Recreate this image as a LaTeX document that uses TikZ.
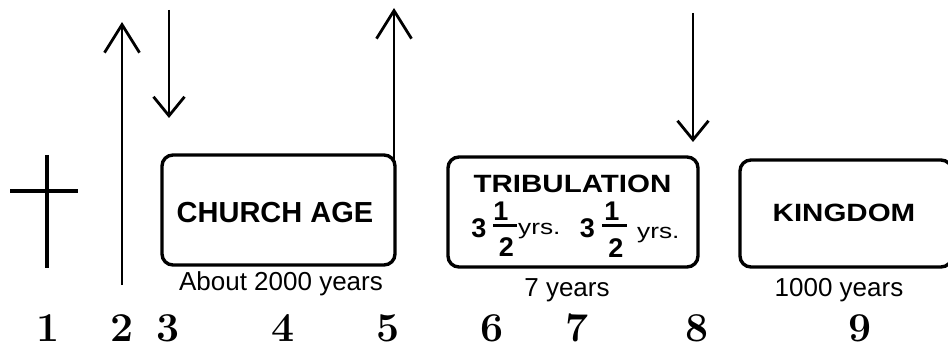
\documentclass[tikz,border=0pt]{standalone}
\usepackage{fontspec}
\usepackage{graphicx}
\setsansfont{Liberation Sans}
\usetikzlibrary{arrows.meta}
\tikzset{
  era/.style={draw, line width=3.4pt, rounded corners=11pt, inner sep=0pt},
  lbl/.style={inner sep=0pt, font=\sffamily\bfseries\fontsize{25}{28}\selectfont},
  fb/.style={inner sep=0pt, font=\sffamily\bfseries\fontsize{27}{28}\selectfont},
  yr/.style={inner sep=0pt, font=\sffamily\fontsize{21}{24}\selectfont},
  dur/.style={font=\sffamily\fontsize{26}{28}\selectfont, inner sep=0pt},
  num/.style={font=\bfseries\fontsize{41}{41}\selectfont, inner sep=0pt},
  fbar/.style={line width=3pt},
  shaft/.style={line width=2.8pt, -{Straight Barb[length=28pt,width=35pt,line width=2.8pt]}},
  shafts/.style={line width=2.8pt, -{Straight Barb[length=19pt,width=31pt,line width=2.8pt]}},
  crossline/.style={line width=3.6pt}
}
\begin{document}
\begin{tikzpicture}[x=1pt,y=-1pt]
\clip (0,0) rectangle (948,350);
\fill[white] (0,0) rectangle (948,350);
% cross
\coordinate (ct) at (47,155); \coordinate (cb) at (47,268);
\coordinate (cl) at (10,191); \coordinate (cr) at (78,191);
\draw[crossline] (ct) -- (cb);
\draw[crossline] (cl) -- (cr);
% boxes
\node[era, minimum width=233, minimum height=110] (church) at (278.5,210) {};
\node[lbl, font=\sffamily\bfseries\fontsize{29}{30}\selectfont] (churcht) at (275,212.5) {CHURCH AGE};
\node[era, minimum width=250, minimum height=110] (trib) at (573,212) {};
\node[lbl] (tribt) at (572.5,183.5) {\scalebox{1.18}[1]{TRIBULATION}};
% first 3 1/2 yrs.
\node[fb] (t3a) at (479,228) {3};
\node[fb] (t1a) at (501,211.5) {1};
\coordinate (bal) at (493,225.5); \coordinate (bar) at (517,225.5);
\draw[fbar] (bal) -- (bar);
\node[fb] (t2a) at (506.5,247.5) {2};
\node[yr, anchor=base west] (tya) at (518,234) {\scalebox{1.25}[1]{yrs.}};
% second 3 1/2 yrs.
\node[fb] (t3b) at (587.5,228) {3};
\node[fb] (t1b) at (612,211.5) {1};
\coordinate (bbl) at (602,225.5); \coordinate (bbr) at (627,225.5);
\draw[fbar] (bbl) -- (bbr);
\node[fb] (t2b) at (616,248) {2};
\node[yr, anchor=base west] (tyb) at (637,238) {\scalebox{1.25}[1]{yrs.}};
% kingdom
\node[era, minimum width=212, minimum height=107] (king) at (846,213.5) {};
\node[lbl] (kingt) at (844,213) {\scalebox{1.18}[1]{KINGDOM}};
% durations
\node[dur] (d1) at (281,284) {About 2000 years};
\node[dur] (d2) at (567,290) {7 years};
\node[dur] (d3) at (839,290) {1000 years};
% arrows
\coordinate (a2b) at (122,285); \coordinate (a2t) at (122,22);
\draw[shaft] (a2b) -- (a2t);
\coordinate (a3t) at (169,10); \coordinate (a3b) at (169,118);
\draw[shafts] (a3t) -- (a3b);
\coordinate (a5b) at (394,165); \coordinate (a5t) at (394,8);
\draw[shaft] (a5b) -- (a5t);
\coordinate (a8t) at (693,13); \coordinate (a8b) at (693,142);
\draw[shafts] (a8t) -- (a8b);
% numbers
\node[num] (n1) at (48,328) {1};
\node[num] (n2) at (122,328) {2};
\node[num] (n3) at (168,328) {3};
\node[num] (n4) at (283,328) {4};
\node[num] (n5) at (388,328) {5};
\node[num] (n6) at (492,328) {6};
\node[num] (n7) at (577,328) {7};
\node[num] (n8) at (697,328) {8};
\node[num] (n9) at (860,328) {9};
\end{tikzpicture}
\end{document}
